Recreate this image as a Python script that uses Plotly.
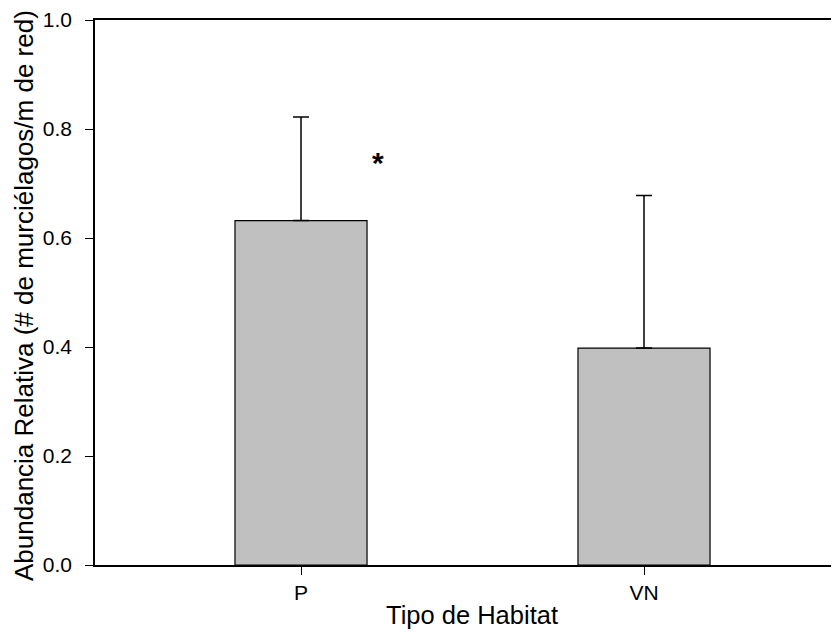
import plotly.graph_objects as go

categories = ["P", "VN"]
positions = [0, 1]
means = [0.632, 0.398]
errors_up = [0.190, 0.280]
star_x = [0.224]
star_y = [0.738]

FONT = "Liberation Sans, Arial, sans-serif"

fig = go.Figure()
fig.add_trace(go.Bar(
    x=positions, y=means, width=0.385,
    marker=dict(color="#c0c0c0", line=dict(color="black", width=1.2)),
    error_y=dict(type="data", symmetric=False, array=errors_up,
                 arrayminus=[0, 0], color="black", thickness=1.5, width=8),
    showlegend=False,
))
fig.add_annotation(x=star_x[0], y=star_y[0], text="<b>*</b>", showarrow=False,
                   font=dict(family=FONT, size=30, color="black"))
fig.add_annotation(x=0.507, y=-0.0917, xref="paper", yref="paper",
                   text="Tipo de Habitat", showarrow=False,
                   xanchor="center", yanchor="middle",
                   font=dict(family=FONT, size=25.5, color="black"))
fig.add_annotation(x=-0.0954, y=0.4936, xref="paper", yref="paper",
                   text="Abundancia Relativa (# de murciélagos/m de red)",
                   showarrow=False, textangle=-90,
                   xanchor="center", yanchor="middle",
                   font=dict(family=FONT, size=26, color="black"))

fig.update_layout(
    width=831, height=624,
    margin=dict(l=87, r=0, t=12, b=67),
    paper_bgcolor="white", plot_bgcolor="white",
    font=dict(family=FONT, color="black"),
    xaxis=dict(range=[-0.6006, 1.5685], tickmode="array", tickvals=positions,
               ticktext=categories, showline=True, linecolor="black", linewidth=1.5,
               mirror=True, ticks="outside", ticklen=8, tickcolor="black",
               tickfont=dict(size=21), showgrid=False, zeroline=False,
               automargin=False),
    yaxis=dict(range=[0, 1.0], tickvals=[0, 0.2, 0.4, 0.6, 0.8, 1.0], tickformat=".1f",
               showline=True, linecolor="black", linewidth=1.5, ticks="outside",
               ticklen=8, tickcolor="black", tickfont=dict(size=21),
               ticklabelstandoff=9,
               showgrid=False, zeroline=False, automargin=False),
)
fig.write_html("out.html")
